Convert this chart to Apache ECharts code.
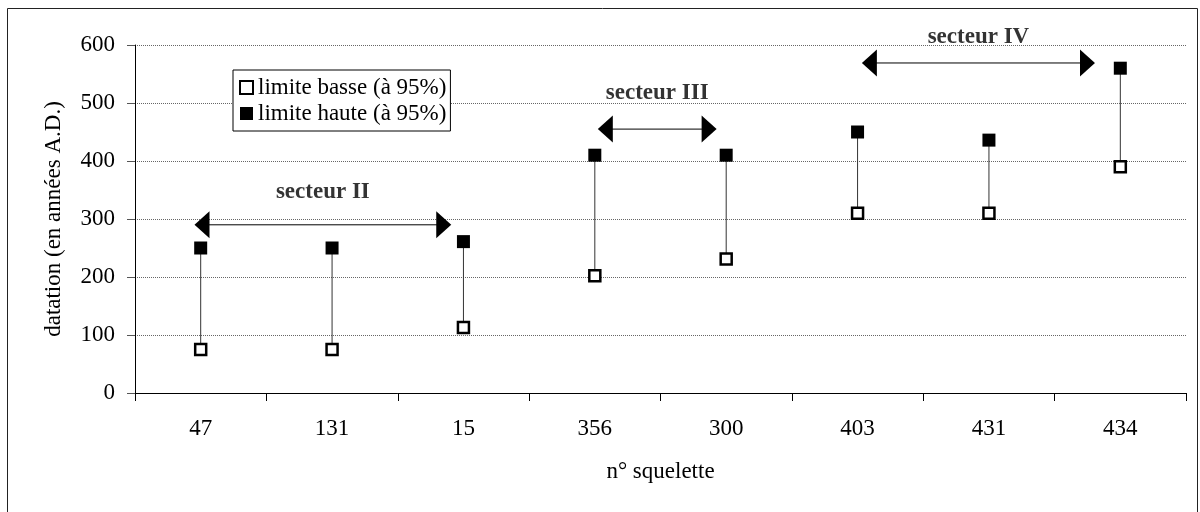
<!DOCTYPE html>
<html>
<head>
<meta charset="utf-8">
<script src="https://cdn.jsdelivr.net/npm/echarts@6/dist/echarts.min.js"></script>
<style>
html, body { margin: 0; padding: 0; background: #fff; }
#main { width: 1200px; height: 512px; }
</style>
</head>
<body>
<div id="main"></div>
<script>
// données
var squelettes = ['47', '131', '15', '356', '300', '403', '431', '434'];
var limiteBasse = [75, 75, 113, 202, 231, 310, 310, 390];
var limiteHaute = [250, 250, 261, 410, 410, 450, 436, 560];

// secteurs (en unités de catégorie, 0 = bord gauche de l'axe)
var secteurs = ['secteur II', 'secteur III', 'secteur IV'];
var secteurDebut = [0.51, 3.58, 5.59];
var secteurFin = [2.35, 4.37, 7.25];
var secteurNiveau = [290, 455, 569];
var secteurEcart = [21, 25, 14]; // décalage du texte au-dessus de la flèche (px)

var FONT = '"Liberation Serif", "Times New Roman", Times, serif';
var myChart = echarts.init(document.getElementById('main'));

var segments = squelettes.map(function (s, i) {
    return [i, limiteBasse[i], limiteHaute[i]];
});

var series = [
    {
        name: 'segments',
        type: 'custom',
        z: 1,
        renderItem: function (params, api) {
            var p1 = api.coord([api.value(0), api.value(1)]);
            var p2 = api.coord([api.value(0), api.value(2)]);
            return {
                type: 'line',
                shape: { x1: p1[0], y1: p1[1], x2: p2[0], y2: p2[1] },
                style: { stroke: '#333', lineWidth: 1 }
            };
        },
        data: segments
    },
    {
        name: 'limite basse (à 95%)',
        type: 'scatter',
        z: 3,
        symbol: 'rect',
        symbolSize: 11,
        itemStyle: { color: '#fff', borderColor: '#000', borderWidth: 2.5, opacity: 1 },
        data: limiteBasse
    },
    {
        name: 'limite haute (à 95%)',
        type: 'scatter',
        z: 3,
        symbol: 'rect',
        symbolSize: 13,
        itemStyle: { color: '#000', opacity: 1 },
        data: limiteHaute
    }
];

secteurs.forEach(function (nom, k) {
    series.push({
        name: nom,
        type: 'line',
        xAxisIndex: 1,
        z: 2,
        symbol: 'triangle',
        symbolSize: [27, 15],
        lineStyle: { color: '#000', width: 1 },
        itemStyle: { color: '#000' },
        data: [
            { value: [secteurDebut[k], secteurNiveau[k]], symbolRotate: 90 },
            { value: [secteurFin[k], secteurNiveau[k]], symbolRotate: -90 }
        ]
    });
    series.push({
        name: nom + ' texte',
        type: 'scatter',
        xAxisIndex: 1,
        symbolSize: 0,
        label: {
            show: true,
            position: 'top',
            distance: secteurEcart[k],
            formatter: nom,
            fontFamily: FONT,
            fontSize: 23,
            fontWeight: 'bold',
            color: '#000'
        },
        data: [[(secteurDebut[k] + secteurFin[k]) / 2, secteurNiveau[k]]]
    });
});

option = {
    animation: false,
    backgroundColor: '#fff',
    textStyle: { fontFamily: FONT },
    grid: { left: 135, right: 14, top: 45, bottom: 119 },
    legend: {
        data: ['limite basse (à 95%)', 'limite haute (à 95%)'],
        orient: 'vertical',
        left: 233,
        top: 70,
        padding: [6, 4, 6, 6],
        itemGap: 3,
        itemWidth: 13,
        itemHeight: 13,
        backgroundColor: '#fff',
        borderColor: '#000',
        borderWidth: 1,
        textStyle: { fontFamily: FONT, fontSize: 23, color: '#000' }
    },
    xAxis: [
        {
            type: 'category',
            data: squelettes,
            name: 'n° squelette',
            nameLocation: 'middle',
            nameGap: 67,
            nameTextStyle: { fontFamily: FONT, fontSize: 23, color: '#000' },
            axisLine: { lineStyle: { color: '#000', width: 1 } },
            axisTick: { show: true, length: 8, lineStyle: { color: '#000' } },
            axisLabel: { margin: 24, fontFamily: FONT, fontSize: 23, color: '#000' },
            splitLine: { show: false }
        },
        {
            type: 'value',
            min: 0,
            max: 8,
            show: false
        }
    ],
    yAxis: {
        type: 'value',
        min: 0,
        max: 600,
        interval: 100,
        name: 'datation (en années A.D.)',
        nameLocation: 'middle',
        nameGap: 70,
        nameTextStyle: { fontFamily: FONT, fontSize: 23, color: '#000' },
        axisLine: { show: true, lineStyle: { color: '#000', width: 1 } },
        axisTick: { show: true, length: 8, lineStyle: { color: '#555' } },
        axisLabel: { margin: 20, fontFamily: FONT, fontSize: 23, color: '#000' },
        splitLine: { show: true, lineStyle: { color: '#666', type: 'dotted', width: 1 } }
    },
    graphic: [
        {
            type: 'rect',
            shape: { x: 7.5, y: 8.5, width: 1190, height: 520 },
            style: { fill: null, stroke: '#222', lineWidth: 1 },
            silent: true
        }
    ],
    series: series
};

myChart.setOption(option);

window.addEventListener('resize', function () {
    myChart.resize();
});
</script>
</body>
</html>
